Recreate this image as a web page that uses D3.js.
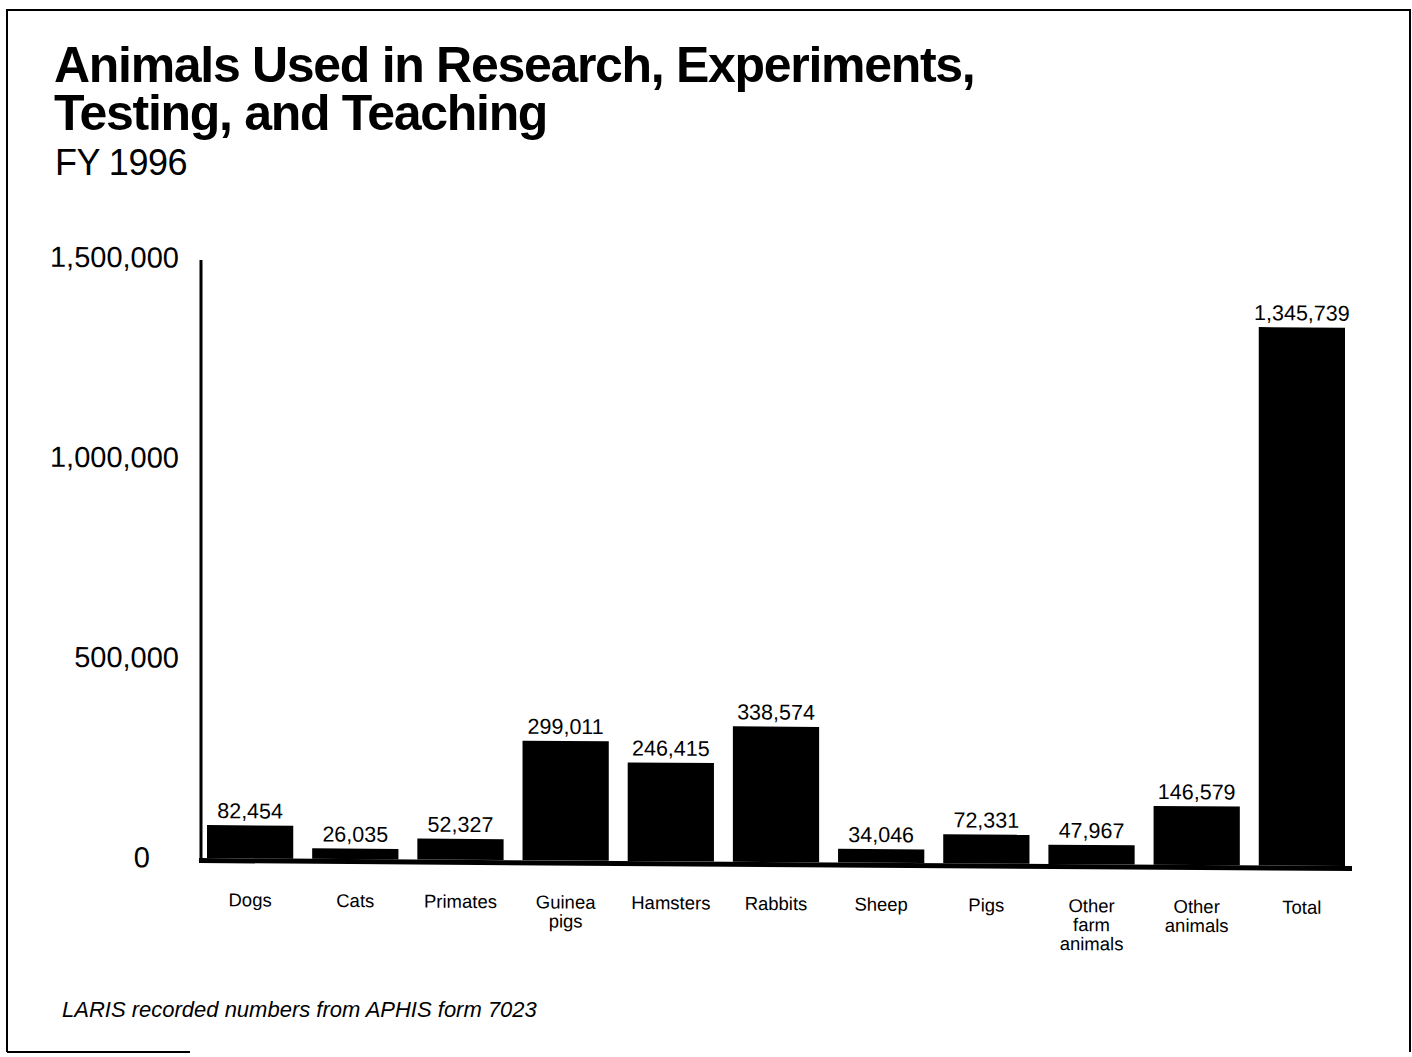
<!DOCTYPE html>
<html><head><meta charset="utf-8">
<script src="https://cdn.jsdelivr.net/npm/d3@7/dist/d3.min.js"></script>
<style>
html,body{margin:0;padding:0;background:#fff;}
svg text{font-family:"Liberation Sans",Arial,Helvetica,sans-serif;fill:#000;}
</style></head>
<body>
<svg id="chart" width="1412" height="1057"></svg>
<script>
const categories = ["Dogs","Cats","Primates","Guinea\npigs","Hamsters","Rabbits","Sheep","Pigs","Other\nfarm\nanimals","Other\nanimals","Total"];
const values = [82454,26035,52327,299011,246415,338574,34046,72331,47967,146579,1345739];
const yTicks = [0,500000,1000000,1500000];
const titleLines = ["Animals Used in Research, Experiments,","Testing, and Teaching"];
const subtitle = "FY 1996";
const footnote = "LARIS recorded numbers from APHIS form 7023";

const svg = d3.select("#chart");
const fmt = d3.format(",");

// frame
svg.append("path").attr("d","M7,1052 L7,10 L1410,10 L1410,1052").attr("fill","none").attr("stroke","#000").attr("stroke-width",2);
svg.append("line").attr("x1",7).attr("x2",190).attr("y1",1052).attr("y2",1052).attr("stroke","#000").attr("stroke-width",2);

// titles
svg.selectAll("text.title").data(titleLines).join("text").attr("class","title")
  .attr("x",54).attr("y",(d,i)=>82+i*48)
  .attr("font-size",50).attr("font-weight","bold").attr("letter-spacing",-1.3)
  .text(d=>d);
svg.append("text").attr("x",55).attr("y",175).attr("font-size",36).attr("letter-spacing",-0.5).text(subtitle);

const x0 = 201, y0 = 858;
const g = svg.append("g").attr("transform",`translate(${x0},${y0}) skewY(0.4) translate(${-x0},${-y0})`);

const x = d3.scaleBand().domain(categories).range([207,1345]).paddingInner(0.18).paddingOuter(0);
const y = d3.scaleLinear().domain([0,1500000]).range([858,258]);

// y axis labels
const yAxis = d3.axisLeft(y).tickValues(yTicks).tickFormat(fmt).tickSize(0).tickPadding(22);
const ya = g.append("g").attr("transform",`translate(${x0},0)`).call(yAxis);
ya.select(".domain").remove();
ya.selectAll("text").attr("font-size",29).attr("font-family","Liberation Sans, Arial, sans-serif").attr("fill","#000");
ya.selectAll(".tick").filter(d=>d===0).select("text").attr("x",-51);

// bars
g.selectAll("rect.bar").data(values).join("rect").attr("class","bar")
  .attr("x",(d,i)=>x(categories[i])).attr("width",x.bandwidth())
  .attr("y",d=>y(d)).attr("height",d=>y(0)-y(d)).attr("fill","#000");

// axis lines
g.append("line").attr("x1",x0).attr("x2",x0).attr("y1",y(1500000)+2).attr("y2",y(0)+3).attr("stroke","#000").attr("stroke-width",3);
g.append("line").attr("x1",x0-2).attr("x2",1352).attr("y1",y(0)+2.5).attr("y2",y(0)+2.5).attr("stroke","#000").attr("stroke-width",5);

// value labels
g.selectAll("text.val").data(values).join("text").attr("class","val")
  .attr("x",(d,i)=>x(categories[i])+x.bandwidth()/2).attr("y",d=>y(d)-7)
  .attr("text-anchor","middle").attr("font-size",21.5).text(d=>fmt(d));

// category labels
const cl = g.selectAll("text.cat").data(categories).join("text").attr("class","cat")
  .attr("x",d=>x(d)+x.bandwidth()/2).attr("y",906)
  .attr("text-anchor","middle").attr("font-size",18.5);
cl.each(function(d){
  const t = d3.select(this);
  d.split("\n").forEach((line,i)=>{
    t.append("tspan").attr("x",x(d)+x.bandwidth()/2).attr("dy",i===0?0:19).text(line);
  });
});

// footnote
svg.append("text").attr("x",62).attr("y",1017).attr("font-size",22).attr("font-style","italic").text(footnote);
</script>
</body></html>
